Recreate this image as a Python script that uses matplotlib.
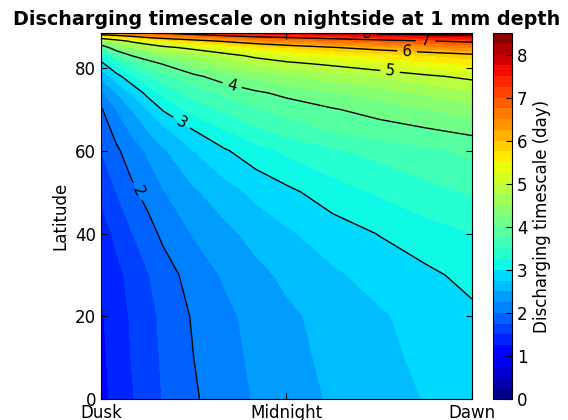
import numpy as np
import matplotlib
matplotlib.use('Agg')
import matplotlib.pyplot as plt

# Hours after dusk (0 = Dusk, 6 = Midnight, 12 = Dawn)
hours = [0, 0.5, 1, 1.5, 2, 3, 4, 5, 6, 7.5, 9, 10.5, 12]
latitude = [0, 10, 20, 30, 40, 50, 60, 65, 70, 74, 78, 81, 83, 85, 86.5, 87.5, 88.5]

# Discharging timescale (day), one row per latitude
timescale = [
    [1.17, 1.33, 1.48, 1.62, 1.76, 1.97, 2.13, 2.27, 2.38, 2.53, 2.65, 2.76, 2.88],
    [1.19, 1.36, 1.51, 1.65, 1.78, 2.00, 2.16, 2.30, 2.42, 2.56, 2.69, 2.80, 2.91],
    [1.22, 1.38, 1.53, 1.67, 1.80, 2.03, 2.19, 2.33, 2.45, 2.59, 2.72, 2.84, 2.95],
    [1.28, 1.43, 1.58, 1.73, 1.88, 2.11, 2.28, 2.43, 2.55, 2.71, 2.84, 2.95, 3.07],
    [1.37, 1.56, 1.74, 1.90, 2.05, 2.27, 2.43, 2.58, 2.71, 2.88, 3.01, 3.14, 3.25],
    [1.55, 1.75, 1.95, 2.08, 2.23, 2.46, 2.64, 2.81, 2.94, 3.13, 3.28, 3.41, 3.53],
    [1.75, 1.96, 2.12, 2.28, 2.46, 2.75, 2.97, 3.15, 3.29, 3.46, 3.59, 3.70, 3.80],
    [1.86, 2.08, 2.30, 2.50, 2.68, 3.00, 3.24, 3.44, 3.60, 3.77, 3.89, 3.97, 4.07],
    [1.97, 2.25, 2.50, 2.75, 3.02, 3.35, 3.55, 3.72, 3.84, 3.98, 4.10, 4.24, 4.38],
    [2.20, 2.50, 2.78, 3.08, 3.30, 3.60, 3.80, 3.95, 4.07, 4.22, 4.37, 4.53, 4.70],
    [2.55, 2.90, 3.20, 3.45, 3.65, 3.93, 4.15, 4.32, 4.47, 4.64, 4.79, 4.94, 5.08],
    [2.91, 3.30, 3.60, 3.82, 4.01, 4.33, 4.56, 4.76, 4.91, 5.06, 5.22, 5.39, 5.55],
    [3.20, 3.62, 4.00, 4.20, 4.36, 4.62, 4.86, 5.08, 5.23, 5.42, 5.58, 5.73, 5.88],
    [3.75, 4.25, 4.52, 4.70, 4.90, 5.12, 5.34, 5.56, 5.75, 5.98, 6.18, 6.36, 6.52],
    [4.40, 4.72, 5.07, 5.28, 5.45, 5.75, 6.04, 6.27, 6.45, 6.64, 6.80, 6.95, 7.08],
    [5.30, 5.55, 5.82, 6.08, 6.25, 6.52, 6.75, 6.94, 7.06, 7.22, 7.38, 7.53, 7.67],
    [6.50, 6.62, 6.75, 6.88, 7.04, 7.25, 7.45, 7.62, 7.80, 8.02, 8.20, 8.30, 8.38],
]

fill_levels = np.arange(0, 8.75, 0.25)
line_levels = [2, 3, 4, 5, 6, 7, 8]
# where the contour labels sit (hours, latitude)
label_spots = [(1.2, 50.2), (2.6, 66.7), (4.25, 76.1), (9.35, 79.3),
               (9.9, 84.1), (10.5, 86.6), (8.6, 88.1)]
xtick_pos = [0, 6, 12]
xtick_labels = ['Dusk', 'Midnight', 'Dawn']

plt.rcParams.update({
    'font.size': 12,
    'xtick.direction': 'in',
    'ytick.direction': 'in',
    'xtick.top': True,
    'ytick.right': True,
    'xtick.major.size': 4,
    'ytick.major.size': 4,
})

fig = plt.figure(figsize=(5.68, 4.2), dpi=100)
ax = fig.add_axes([0.1778, 0.05, 0.6532, 0.8714])
cax = fig.add_axes([0.868, 0.05, 0.0335, 0.8714])

X, Y = np.meshgrid(hours, latitude)
Z = np.array(timescale)

cf = ax.contourf(X, Y, Z, levels=fill_levels, cmap='jet')
cs = ax.contour(X, Y, Z, levels=line_levels, colors='k', linewidths=1)
ax.clabel(cs, fmt='%d', fontsize=11, inline=True, manual=label_spots)

ax.set_xlim(0, 12)
ax.set_ylim(0, 88.5)
ax.set_xticks(xtick_pos)
ax.set_xticklabels(xtick_labels)
ax.set_yticks([0, 20, 40, 60, 80])
ax.set_ylabel('Latitude')
ax.set_title('Discharging timescale on nightside at 1 mm depth',
             fontweight='bold', fontsize=13.8)

cb = fig.colorbar(cf, cax=cax, ticks=range(0, 9))
cb.set_label('Discharging timescale (day)')
cax.tick_params(direction='in', length=4)

fig.savefig('out.png', dpi=100)
